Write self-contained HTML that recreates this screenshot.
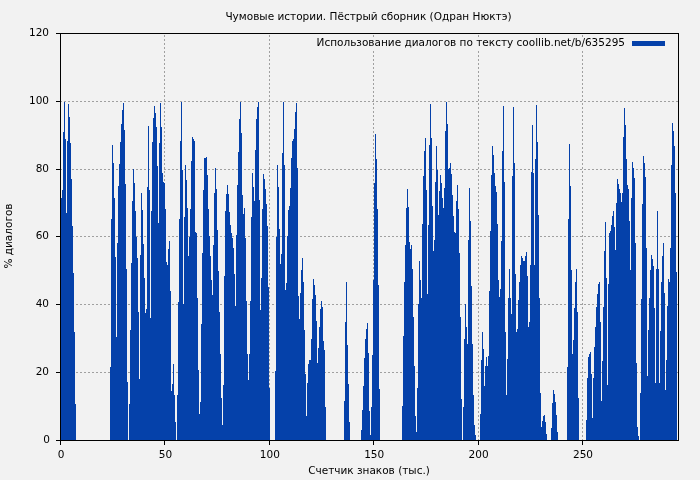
<!DOCTYPE html>
<html><head><meta charset="utf-8"><title>Чумовые истории</title>
<style>html,body{margin:0;padding:0;background:#f2f2f2;}svg{display:block;}</style></head>
<body><svg width="700" height="480" viewBox="0 0 700 480">
<rect x="0" y="0" width="700" height="480" fill="#f2f2f2"/><g stroke="#a0a0a0" stroke-width="1" stroke-dasharray="2,2" shape-rendering="crispEdges"><line x1="60" y1="372.5" x2="678" y2="372.5"/><line x1="60" y1="304.5" x2="678" y2="304.5"/><line x1="60" y1="236.5" x2="678" y2="236.5"/><line x1="60" y1="169.5" x2="678" y2="169.5"/><line x1="60" y1="101.5" x2="678" y2="101.5"/><line x1="164.5" y1="35" x2="164.5" y2="440"/><line x1="269.5" y1="35" x2="269.5" y2="440"/><line x1="373.5" y1="35" x2="373.5" y2="440"/><line x1="478.5" y1="35" x2="478.5" y2="440"/><line x1="582.5" y1="35" x2="582.5" y2="440"/></g><rect x="312" y="38" width="360" height="12" fill="#f2f2f2"/><path fill="#0541aa" shape-rendering="crispEdges" d="M61 198h1V440h-1zM62 190h1V440h-1zM63 132h1V440h-1zM64 102h1V440h-1zM65 139h1V440h-1zM66 213h1V440h-1zM67 141h1V440h-1zM68 104h1V440h-1zM69 117h1V440h-1zM70 143h1V440h-1zM71 179h1V440h-1zM72 226h1V440h-1zM73 273h1V440h-1zM74 332h1V440h-1zM75 404h1V440h-1zM110 367h1V440h-1zM111 219h1V440h-1zM112 145h1V440h-1zM113 163h1V440h-1zM114 198h1V440h-1zM115 257h1V440h-1zM116 337h1V440h-1zM117 243h1V440h-1zM118 186h1V440h-1zM119 164h1V440h-1zM120 142h1V440h-1zM121 124h1V440h-1zM122 110h1V440h-1zM123 103h1V440h-1zM124 130h1V440h-1zM125 184h1V440h-1zM126 269h1V440h-1zM127 382h1V440h-1zM129 404h1V440h-1zM130 330h1V440h-1zM131 263h1V440h-1zM132 201h1V440h-1zM133 169h1V440h-1zM134 183h1V440h-1zM135 211h1V440h-1zM136 237h1V440h-1zM137 258h1V440h-1zM138 312h1V440h-1zM139 379h1V440h-1zM140 255h1V440h-1zM141 193h1V440h-1zM142 210h1V440h-1zM143 244h1V440h-1zM144 278h1V440h-1zM145 313h1V440h-1zM146 309h1V440h-1zM147 187h1V440h-1zM148 126h1V440h-1zM149 190h1V440h-1zM150 318h1V440h-1zM151 211h1V440h-1zM152 142h1V440h-1zM153 118h1V440h-1zM154 106h1V440h-1zM155 113h1V440h-1zM156 127h1V440h-1zM157 166h1V440h-1zM158 223h1V440h-1zM159 143h1V440h-1zM160 103h1V440h-1zM161 127h1V440h-1zM162 173h1V440h-1zM163 182h1V440h-1zM164 183h1V440h-1zM165 209h1V440h-1zM166 262h1V440h-1zM167 265h1V440h-1zM168 249h1V440h-1zM169 241h1V440h-1zM170 291h1V440h-1zM171 391h1V440h-1zM172 384h1V440h-1zM173 364h1V440h-1zM174 395h1V440h-1zM175 422h1V440h-1zM177 395h1V440h-1zM178 302h1V440h-1zM179 219h1V440h-1zM180 141h1V440h-1zM181 102h1V440h-1zM182 170h1V440h-1zM183 304h1V440h-1zM184 217h1V440h-1zM185 165h1V440h-1zM186 180h1V440h-1zM187 208h1V440h-1zM188 256h1V440h-1zM189 237h1V440h-1zM190 209h1V440h-1zM191 161h1V440h-1zM192 137h1V440h-1zM193 139h1V440h-1zM194 141h1V440h-1zM195 232h1V440h-1zM196 233h1V440h-1zM197 298h1V440h-1zM198 370h1V440h-1zM199 414h1V440h-1zM200 402h1V440h-1zM201 324h1V440h-1zM202 253h1V440h-1zM203 190h1V440h-1zM204 158h1V440h-1zM205 158h1V440h-1zM206 157h1V440h-1zM207 175h1V440h-1zM208 209h1V440h-1zM209 236h1V440h-1zM210 256h1V440h-1zM211 280h1V440h-1zM212 295h1V440h-1zM213 245h1V440h-1zM214 193h1V440h-1zM215 168h1V440h-1zM216 189h1V440h-1zM217 230h1V440h-1zM218 271h1V440h-1zM219 312h1V440h-1zM220 354h1V440h-1zM221 398h1V440h-1zM222 425h1V440h-1zM223 385h1V440h-1zM224 276h1V440h-1zM225 211h1V440h-1zM226 194h1V440h-1zM227 185h1V440h-1zM228 194h1V440h-1zM229 212h1V440h-1zM230 225h1V440h-1zM231 233h1V440h-1zM232 238h1V440h-1zM233 248h1V440h-1zM234 274h1V440h-1zM235 306h1V440h-1zM236 235h1V440h-1zM237 185h1V440h-1zM238 152h1V440h-1zM239 119h1V440h-1zM240 102h1V440h-1zM241 133h1V440h-1zM242 195h1V440h-1zM243 214h1V440h-1zM244 208h1V440h-1zM245 238h1V440h-1zM246 301h1V440h-1zM247 354h1V440h-1zM248 380h1V440h-1zM249 354h1V440h-1zM250 301h1V440h-1zM251 217h1V440h-1zM252 173h1V440h-1zM253 187h1V440h-1zM254 201h1V440h-1zM255 150h1V440h-1zM256 119h1V440h-1zM257 107h1V440h-1zM258 102h1V440h-1zM259 200h1V440h-1zM260 310h1V440h-1zM261 278h1V440h-1zM262 209h1V440h-1zM263 174h1V440h-1zM264 179h1V440h-1zM265 189h1V440h-1zM266 204h1V440h-1zM267 226h1V440h-1zM268 287h1V440h-1zM269 388h1V440h-1zM275 371h1V440h-1zM276 237h1V440h-1zM277 165h1V440h-1zM278 187h1V440h-1zM279 229h1V440h-1zM280 264h1V440h-1zM281 254h1V440h-1zM282 153h1V440h-1zM283 102h1V440h-1zM284 165h1V440h-1zM285 290h1V440h-1zM286 283h1V440h-1zM287 236h1V440h-1zM288 210h1V440h-1zM289 206h1V440h-1zM290 188h1V440h-1zM291 158h1V440h-1zM292 141h1V440h-1zM293 139h1V440h-1zM294 129h1V440h-1zM295 112h1V440h-1zM296 103h1V440h-1zM297 168h1V440h-1zM298 296h1V440h-1zM299 319h1V440h-1zM300 293h1V440h-1zM301 270h1V440h-1zM302 258h1V440h-1zM303 282h1V440h-1zM304 330h1V440h-1zM305 374h1V440h-1zM306 416h1V440h-1zM307 383h1V440h-1zM308 364h1V440h-1zM309 360h1V440h-1zM310 360h1V440h-1zM311 339h1V440h-1zM312 299h1V440h-1zM313 279h1V440h-1zM314 285h1V440h-1zM315 295h1V440h-1zM316 321h1V440h-1zM317 363h1V440h-1zM318 348h1V440h-1zM319 327h1V440h-1zM320 309h1V440h-1zM321 301h1V440h-1zM322 307h1V440h-1zM323 341h1V440h-1zM324 350h1V440h-1zM325 407h1V440h-1zM344 401h1V440h-1zM345 322h1V440h-1zM346 282h1V440h-1zM347 345h1V440h-1zM348 384h1V440h-1zM349 422h1V440h-1zM361 430h1V440h-1zM362 410h1V440h-1zM363 386h1V440h-1zM364 358h1V440h-1zM365 339h1V440h-1zM366 329h1V440h-1zM367 323h1V440h-1zM368 353h1V440h-1zM369 411h1V440h-1zM370 435h1V440h-1zM371 407h1V440h-1zM372 355h1V440h-1zM373 280h1V440h-1zM374 183h1V440h-1zM375 134h1V440h-1zM376 159h1V440h-1zM377 209h1V440h-1zM378 285h1V440h-1zM379 389h1V440h-1zM402 406h1V440h-1zM403 336h1V440h-1zM404 282h1V440h-1zM405 245h1V440h-1zM406 208h1V440h-1zM407 189h1V440h-1zM408 207h1V440h-1zM409 242h1V440h-1zM410 249h1V440h-1zM411 245h1V440h-1zM412 269h1V440h-1zM413 317h1V440h-1zM414 366h1V440h-1zM415 416h1V440h-1zM416 432h1V440h-1zM417 388h1V440h-1zM418 304h1V440h-1zM419 261h1V440h-1zM420 280h1V440h-1zM421 298h1V440h-1zM422 224h1V440h-1zM423 176h1V440h-1zM424 151h1V440h-1zM425 138h1V440h-1zM426 190h1V440h-1zM427 294h1V440h-1zM428 225h1V440h-1zM429 145h1V440h-1zM430 104h1V440h-1zM431 138h1V440h-1zM432 206h1V440h-1zM433 251h1V440h-1zM434 240h1V440h-1zM435 182h1V440h-1zM436 146h1V440h-1zM437 170h1V440h-1zM438 215h1V440h-1zM439 191h1V440h-1zM440 175h1V440h-1zM441 183h1V440h-1zM442 198h1V440h-1zM443 208h1V440h-1zM444 188h1V440h-1zM445 131h1V440h-1zM446 102h1V440h-1zM447 124h1V440h-1zM448 169h1V440h-1zM449 168h1V440h-1zM450 163h1V440h-1zM451 174h1V440h-1zM452 195h1V440h-1zM453 216h1V440h-1zM454 232h1V440h-1zM455 233h1V440h-1zM456 201h1V440h-1zM457 185h1V440h-1zM458 209h1V440h-1zM459 253h1V440h-1zM460 317h1V440h-1zM461 399h1V440h-1zM463 407h1V440h-1zM464 339h1V440h-1zM465 304h1V440h-1zM466 327h1V440h-1zM467 344h1V440h-1zM468 240h1V440h-1zM469 188h1V440h-1zM470 221h1V440h-1zM471 286h1V440h-1zM472 344h1V440h-1zM473 395h1V440h-1zM474 425h1V440h-1zM475 435h1V440h-1zM480 414h1V440h-1zM481 360h1V440h-1zM482 332h1V440h-1zM483 349h1V440h-1zM484 386h1V440h-1zM485 366h1V440h-1zM486 357h1V440h-1zM487 366h1V440h-1zM488 356h1V440h-1zM489 291h1V440h-1zM490 231h1V440h-1zM491 175h1V440h-1zM492 146h1V440h-1zM493 155h1V440h-1zM494 173h1V440h-1zM495 186h1V440h-1zM496 192h1V440h-1zM497 224h1V440h-1zM498 280h1V440h-1zM499 297h1V440h-1zM500 289h1V440h-1zM501 241h1V440h-1zM502 151h1V440h-1zM503 106h1V440h-1zM504 182h1V440h-1zM505 332h1V440h-1zM506 395h1V440h-1zM507 359h1V440h-1zM508 298h1V440h-1zM509 269h1V440h-1zM510 298h1V440h-1zM511 314h1V440h-1zM512 176h1V440h-1zM513 107h1V440h-1zM514 163h1V440h-1zM515 274h1V440h-1zM516 332h1V440h-1zM517 329h1V440h-1zM518 300h1V440h-1zM519 282h1V440h-1zM520 265h1V440h-1zM521 256h1V440h-1zM522 258h1V440h-1zM523 261h1V440h-1zM524 261h1V440h-1zM525 256h1V440h-1zM526 252h1V440h-1zM527 276h1V440h-1zM528 327h1V440h-1zM529 322h1V440h-1zM530 265h1V440h-1zM531 172h1V440h-1zM532 125h1V440h-1zM533 173h1V440h-1zM534 265h1V440h-1zM535 159h1V440h-1zM536 105h1V440h-1zM537 142h1V440h-1zM538 215h1V440h-1zM539 298h1V440h-1zM540 393h1V440h-1zM541 427h1V440h-1zM542 421h1V440h-1zM543 416h1V440h-1zM544 415h1V440h-1zM545 422h1V440h-1zM546 434h1V440h-1zM551 428h1V440h-1zM552 403h1V440h-1zM553 390h1V440h-1zM554 394h1V440h-1zM555 402h1V440h-1zM556 415h1V440h-1zM557 432h1V440h-1zM567 367h1V440h-1zM568 219h1V440h-1zM569 144h1V440h-1zM570 186h1V440h-1zM571 270h1V440h-1zM572 354h1V440h-1zM573 340h1V440h-1zM574 308h1V440h-1zM575 282h1V440h-1zM576 269h1V440h-1zM577 312h1V440h-1zM578 398h1V440h-1zM586 420h1V440h-1zM587 378h1V440h-1zM588 357h1V440h-1zM589 354h1V440h-1zM590 352h1V440h-1zM591 374h1V440h-1zM592 418h1V440h-1zM593 378h1V440h-1zM594 347h1V440h-1zM595 327h1V440h-1zM596 307h1V440h-1zM597 294h1V440h-1zM598 284h1V440h-1zM599 282h1V440h-1zM600 322h1V440h-1zM601 401h1V440h-1zM602 361h1V440h-1zM603 307h1V440h-1zM604 251h1V440h-1zM605 222h1V440h-1zM606 278h1V440h-1zM607 385h1V440h-1zM608 284h1V440h-1zM609 233h1V440h-1zM610 231h1V440h-1zM611 225h1V440h-1zM612 216h1V440h-1zM613 211h1V440h-1zM614 227h1V440h-1zM615 250h1V440h-1zM616 203h1V440h-1zM617 179h1V440h-1zM618 184h1V440h-1zM619 189h1V440h-1zM620 193h1V440h-1zM621 202h1V440h-1zM622 193h1V440h-1zM623 137h1V440h-1zM624 108h1V440h-1zM625 125h1V440h-1zM626 159h1V440h-1zM627 185h1V440h-1zM628 189h1V440h-1zM629 221h1V440h-1zM630 270h1V440h-1zM631 198h1V440h-1zM632 162h1V440h-1zM633 168h1V440h-1zM634 178h1V440h-1zM635 243h1V440h-1zM636 363h1V440h-1zM637 427h1V440h-1zM638 436h1V440h-1zM640 393h1V440h-1zM641 299h1V440h-1zM642 204h1V440h-1zM643 156h1V440h-1zM644 163h1V440h-1zM645 177h1V440h-1zM646 248h1V440h-1zM647 376h1V440h-1zM648 330h1V440h-1zM649 298h1V440h-1zM650 270h1V440h-1zM651 255h1V440h-1zM652 259h1V440h-1zM653 266h1V440h-1zM654 308h1V440h-1zM655 383h1V440h-1zM656 269h1V440h-1zM657 211h1V440h-1zM658 269h1V440h-1zM659 383h1V440h-1zM660 331h1V440h-1zM661 282h1V440h-1zM662 256h1V440h-1zM663 243h1V440h-1zM664 293h1V440h-1zM665 390h1V440h-1zM666 360h1V440h-1zM667 306h1V440h-1zM668 279h1V440h-1zM669 282h1V440h-1zM670 248h1V440h-1zM671 165h1V440h-1zM672 123h1V440h-1zM673 131h1V440h-1zM674 146h1V440h-1zM675 193h1V440h-1zM676 272h1V440h-1z"/><rect x="60.5" y="33.5" width="618" height="407" fill="none" stroke="#000" stroke-width="1" shape-rendering="crispEdges"/><g stroke="#000" stroke-width="1" shape-rendering="crispEdges"><line x1="56" y1="440.5" x2="60" y2="440.5"/><line x1="56" y1="372.5" x2="60" y2="372.5"/><line x1="56" y1="304.5" x2="60" y2="304.5"/><line x1="56" y1="236.5" x2="60" y2="236.5"/><line x1="56" y1="169.5" x2="60" y2="169.5"/><line x1="56" y1="101.5" x2="60" y2="101.5"/><line x1="56" y1="33.5" x2="60" y2="33.5"/><line x1="60.5" y1="440" x2="60.5" y2="445"/><line x1="164.5" y1="440" x2="164.5" y2="445"/><line x1="269.5" y1="440" x2="269.5" y2="445"/><line x1="373.5" y1="440" x2="373.5" y2="445"/><line x1="478.5" y1="440" x2="478.5" y2="445"/><line x1="582.5" y1="440" x2="582.5" y2="445"/></g><g font-family="DejaVu Sans, Liberation Sans, sans-serif" font-size="10.5" fill="#000"><text x="50" y="443.0" text-anchor="end">0</text><text x="49" y="375.0" text-anchor="end">20</text><text x="49" y="307.0" text-anchor="end">40</text><text x="49" y="239.0" text-anchor="end">60</text><text x="49" y="172.0" text-anchor="end">80</text><text x="49" y="104.0" text-anchor="end">100</text><text x="49" y="36.0" text-anchor="end">120</text><text x="61.0" y="458" text-anchor="middle">0</text><text x="165.4" y="458" text-anchor="middle">50</text><text x="269.8" y="458" text-anchor="middle">100</text><text x="374.2" y="458" text-anchor="middle">150</text><text x="478.6" y="458" text-anchor="middle">200</text><text x="583.0" y="458" text-anchor="middle">250</text><text x="368.5" y="20" text-anchor="middle">Чумовые истории. Пёстрый сборник (Одран Нюктэ)</text><text x="369" y="474" text-anchor="middle">Счетчик знаков (тыс.)</text><text x="0" y="0" text-anchor="middle" transform="translate(12 236) rotate(-90)">% диалогов</text><text x="625" y="46" text-anchor="end">Использование диалогов по тексту coollib.net/b/635295</text></g><rect x="632" y="41" width="33" height="5" fill="#0541aa" shape-rendering="crispEdges"/>
</svg></body></html>
